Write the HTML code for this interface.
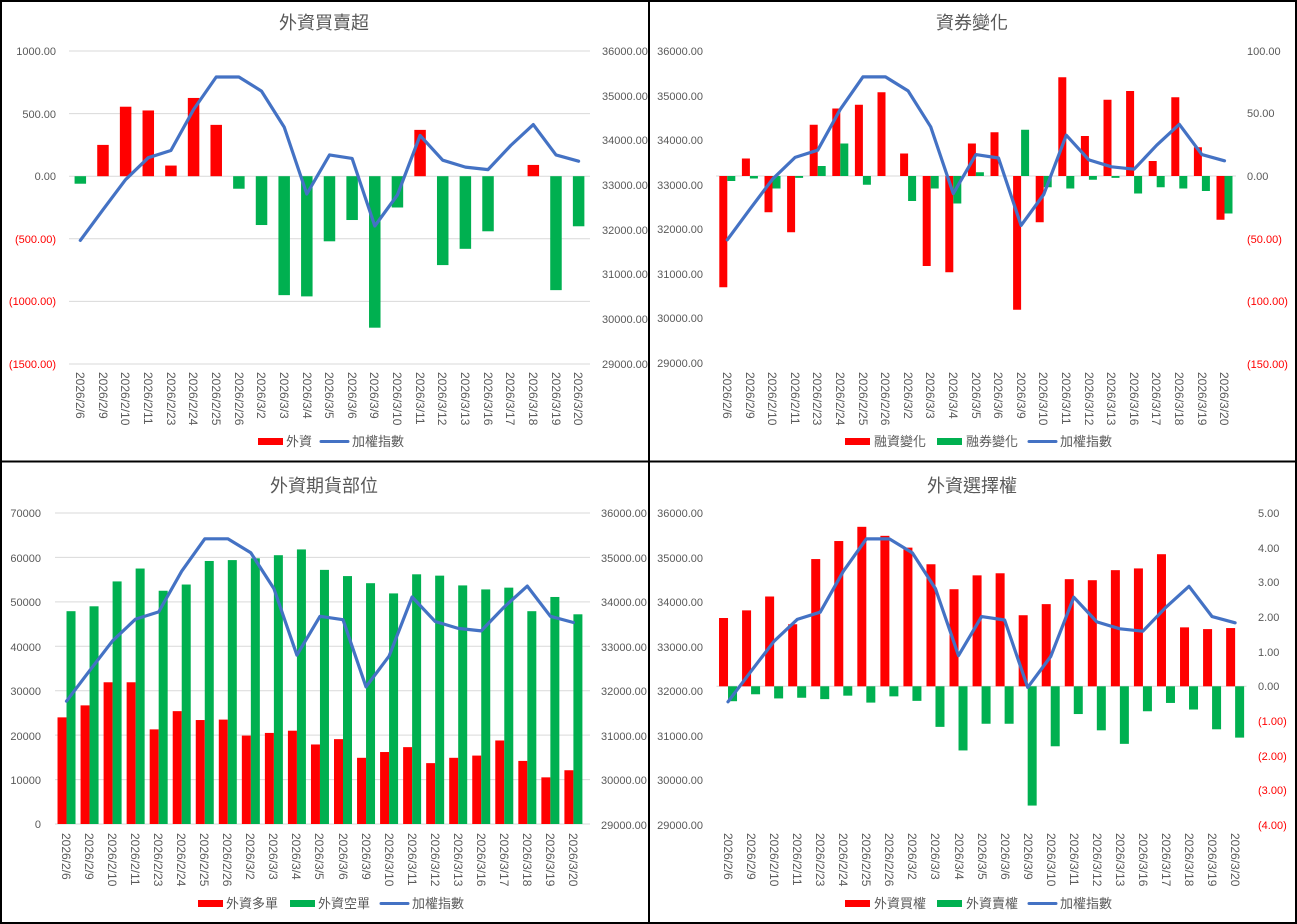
<!DOCTYPE html>
<html><head><meta charset="utf-8">
<style>
html,body{margin:0;padding:0;background:#fff;}
svg{display:block;font-family:"Liberation Sans","Noto Sans CJK TC",sans-serif;}
.ax{font-size:11px;fill:#595959;}
.neg{font-size:11px;fill:#FF0000;}
.dt{font-size:12px;fill:#595959;}
.tt{font-size:18px;fill:#595959;}
.lg{font-size:13px;fill:#595959;}
</style></head>
<body>
<svg id="s" width="1297" height="924" viewBox="0 0 1297 924" xmlns="http://www.w3.org/2000/svg">
<rect x="0" y="0" width="1297" height="924" fill="#fff"/>
<g id="g"></g>
<rect x="1" y="1" width="1295" height="922" fill="none" stroke="#000" stroke-width="2"/>
<line x1="649" y1="0" x2="649" y2="924" stroke="#000" stroke-width="2"/>
<line x1="0" y1="461.5" x2="1297" y2="461.5" stroke="#000" stroke-width="2"/>

<text class="tt" x="324" y="29" text-anchor="middle">外資買賣超</text>
<text class="tt" x="972" y="29" text-anchor="middle">資券變化</text>
<text class="tt" x="324" y="492" text-anchor="middle">外資期貨部位</text>
<text class="tt" x="972" y="492" text-anchor="middle">外資選擇權</text>

<g class="ax" text-anchor="end">
<text x="56" y="55">1000.00</text><text x="56" y="118">500.00</text><text x="56" y="180">0.00</text>
</g>
<g class="neg" text-anchor="end">
<text x="56" y="243">(500.00)</text><text x="56" y="305">(1000.00)</text><text x="56" y="368">(1500.00)</text>
</g>
<g class="ax">
<text x="602" y="55">36000.00</text><text x="602" y="100">35000.00</text><text x="602" y="144">34000.00</text><text x="602" y="189">33000.00</text><text x="602" y="234">32000.00</text><text x="602" y="278">31000.00</text><text x="602" y="323">30000.00</text><text x="602" y="368">29000.00</text>
</g>
<g class="ax" text-anchor="end">
<text x="703" y="55">36000.00</text><text x="703" y="100">35000.00</text><text x="703" y="144">34000.00</text><text x="703" y="189">33000.00</text><text x="703" y="233">32000.00</text><text x="703" y="278">31000.00</text><text x="703" y="322">30000.00</text><text x="703" y="367">29000.00</text>
</g>
<g class="ax"><text x="1247" y="55">100.00</text><text x="1247" y="117">50.00</text><text x="1247" y="180">0.00</text></g>
<g class="neg"><text x="1247" y="243">(50.00)</text><text x="1247" y="305">(100.00)</text><text x="1247" y="368">(150.00)</text></g>
<g class="ax" text-anchor="end">
<text x="41" y="517">70000</text><text x="41" y="562">60000</text><text x="41" y="606">50000</text><text x="41" y="651">40000</text><text x="41" y="695">30000</text><text x="41" y="740">20000</text><text x="41" y="784">10000</text><text x="41" y="828">0</text>
</g>
<g class="ax">
<text x="601" y="517">36000.00</text><text x="601" y="562">35000.00</text><text x="601" y="606">34000.00</text><text x="601" y="651">33000.00</text><text x="601" y="695">32000.00</text><text x="601" y="740">31000.00</text><text x="601" y="784">30000.00</text><text x="601" y="829">29000.00</text>
</g>
<g class="ax" text-anchor="end">
<text x="703" y="517">36000.00</text><text x="703" y="562">35000.00</text><text x="703" y="606">34000.00</text><text x="703" y="651">33000.00</text><text x="703" y="695">32000.00</text><text x="703" y="740">31000.00</text><text x="703" y="784">30000.00</text><text x="703" y="829">29000.00</text>
</g>
<g class="ax"><text x="1258" y="517">5.00</text><text x="1258" y="552">4.00</text><text x="1258" y="586">3.00</text><text x="1258" y="621">2.00</text><text x="1258" y="656">1.00</text><text x="1258" y="690">0.00</text></g>
<g class="neg"><text x="1258" y="725">(1.00)</text><text x="1258" y="760">(2.00)</text><text x="1258" y="794">(3.00)</text><text x="1258" y="829">(4.00)</text></g>

<g class="dt">
<text transform="translate(76,372) rotate(90)">2026/2/6</text>
<text transform="translate(99,372) rotate(90)">2026/2/9</text>
<text transform="translate(121,372) rotate(90)">2026/2/10</text>
<text transform="translate(144,372) rotate(90)">2026/2/11</text>
<text transform="translate(167,372) rotate(90)">2026/2/23</text>
<text transform="translate(189,372) rotate(90)">2026/2/24</text>
<text transform="translate(212,372) rotate(90)">2026/2/25</text>
<text transform="translate(235,372) rotate(90)">2026/2/26</text>
<text transform="translate(257,372) rotate(90)">2026/3/2</text>
<text transform="translate(280,372) rotate(90)">2026/3/3</text>
<text transform="translate(303,372) rotate(90)">2026/3/4</text>
<text transform="translate(325,372) rotate(90)">2026/3/5</text>
<text transform="translate(348,372) rotate(90)">2026/3/6</text>
<text transform="translate(370,372) rotate(90)">2026/3/9</text>
<text transform="translate(393,372) rotate(90)">2026/3/10</text>
<text transform="translate(416,372) rotate(90)">2026/3/11</text>
<text transform="translate(438,372) rotate(90)">2026/3/12</text>
<text transform="translate(461,372) rotate(90)">2026/3/13</text>
<text transform="translate(484,372) rotate(90)">2026/3/16</text>
<text transform="translate(506,372) rotate(90)">2026/3/17</text>
<text transform="translate(529,372) rotate(90)">2026/3/18</text>
<text transform="translate(552,372) rotate(90)">2026/3/19</text>
<text transform="translate(574,372) rotate(90)">2026/3/20</text>
</g>
<g class="dt">
<text transform="translate(723,372) rotate(90)">2026/2/6</text>
<text transform="translate(746,372) rotate(90)">2026/2/9</text>
<text transform="translate(768,372) rotate(90)">2026/2/10</text>
<text transform="translate(791,372) rotate(90)">2026/2/11</text>
<text transform="translate(813,372) rotate(90)">2026/2/23</text>
<text transform="translate(836,372) rotate(90)">2026/2/24</text>
<text transform="translate(859,372) rotate(90)">2026/2/25</text>
<text transform="translate(881,372) rotate(90)">2026/2/26</text>
<text transform="translate(904,372) rotate(90)">2026/3/2</text>
<text transform="translate(926,372) rotate(90)">2026/3/3</text>
<text transform="translate(949,372) rotate(90)">2026/3/4</text>
<text transform="translate(972,372) rotate(90)">2026/3/5</text>
<text transform="translate(994,372) rotate(90)">2026/3/6</text>
<text transform="translate(1017,372) rotate(90)">2026/3/9</text>
<text transform="translate(1039,372) rotate(90)">2026/3/10</text>
<text transform="translate(1062,372) rotate(90)">2026/3/11</text>
<text transform="translate(1085,372) rotate(90)">2026/3/12</text>
<text transform="translate(1107,372) rotate(90)">2026/3/13</text>
<text transform="translate(1130,372) rotate(90)">2026/3/16</text>
<text transform="translate(1152,372) rotate(90)">2026/3/17</text>
<text transform="translate(1175,372) rotate(90)">2026/3/18</text>
<text transform="translate(1198,372) rotate(90)">2026/3/19</text>
<text transform="translate(1220,372) rotate(90)">2026/3/20</text>
</g>
<g class="dt">
<text transform="translate(62,833) rotate(90)">2026/2/6</text>
<text transform="translate(85,833) rotate(90)">2026/2/9</text>
<text transform="translate(108,833) rotate(90)">2026/2/10</text>
<text transform="translate(131,833) rotate(90)">2026/2/11</text>
<text transform="translate(154,833) rotate(90)">2026/2/23</text>
<text transform="translate(177,833) rotate(90)">2026/2/24</text>
<text transform="translate(200,833) rotate(90)">2026/2/25</text>
<text transform="translate(223,833) rotate(90)">2026/2/26</text>
<text transform="translate(246,833) rotate(90)">2026/3/2</text>
<text transform="translate(269,833) rotate(90)">2026/3/3</text>
<text transform="translate(292,833) rotate(90)">2026/3/4</text>
<text transform="translate(315,833) rotate(90)">2026/3/5</text>
<text transform="translate(339,833) rotate(90)">2026/3/6</text>
<text transform="translate(362,833) rotate(90)">2026/3/9</text>
<text transform="translate(385,833) rotate(90)">2026/3/10</text>
<text transform="translate(408,833) rotate(90)">2026/3/11</text>
<text transform="translate(431,833) rotate(90)">2026/3/12</text>
<text transform="translate(454,833) rotate(90)">2026/3/13</text>
<text transform="translate(477,833) rotate(90)">2026/3/16</text>
<text transform="translate(500,833) rotate(90)">2026/3/17</text>
<text transform="translate(523,833) rotate(90)">2026/3/18</text>
<text transform="translate(546,833) rotate(90)">2026/3/19</text>
<text transform="translate(569,833) rotate(90)">2026/3/20</text>
</g>
<g class="dt">
<text transform="translate(724,833) rotate(90)">2026/2/6</text>
<text transform="translate(747,833) rotate(90)">2026/2/9</text>
<text transform="translate(770,833) rotate(90)">2026/2/10</text>
<text transform="translate(793,833) rotate(90)">2026/2/11</text>
<text transform="translate(816,833) rotate(90)">2026/2/23</text>
<text transform="translate(839,833) rotate(90)">2026/2/24</text>
<text transform="translate(862,833) rotate(90)">2026/2/25</text>
<text transform="translate(885,833) rotate(90)">2026/2/26</text>
<text transform="translate(908,833) rotate(90)">2026/3/2</text>
<text transform="translate(931,833) rotate(90)">2026/3/3</text>
<text transform="translate(955,833) rotate(90)">2026/3/4</text>
<text transform="translate(978,833) rotate(90)">2026/3/5</text>
<text transform="translate(1001,833) rotate(90)">2026/3/6</text>
<text transform="translate(1024,833) rotate(90)">2026/3/9</text>
<text transform="translate(1047,833) rotate(90)">2026/3/10</text>
<text transform="translate(1070,833) rotate(90)">2026/3/11</text>
<text transform="translate(1093,833) rotate(90)">2026/3/12</text>
<text transform="translate(1116,833) rotate(90)">2026/3/13</text>
<text transform="translate(1139,833) rotate(90)">2026/3/16</text>
<text transform="translate(1162,833) rotate(90)">2026/3/17</text>
<text transform="translate(1185,833) rotate(90)">2026/3/18</text>
<text transform="translate(1208,833) rotate(90)">2026/3/19</text>
<text transform="translate(1231,833) rotate(90)">2026/3/20</text>
</g>

<rect x="258" y="438" width="25" height="7" fill="#FF0000"/><text class="lg" x="286" y="446">外資</text>
<line x1="321" y1="441.5" x2="348" y2="441.5" stroke="#4472C4" stroke-width="3" stroke-linecap="round"/><text class="lg" x="352" y="446">加權指數</text>

<rect x="845" y="438" width="25" height="7" fill="#FF0000"/><text class="lg" x="874" y="446">融資變化</text>
<rect x="937" y="438" width="25" height="7" fill="#00B050"/><text class="lg" x="966" y="446">融券變化</text>
<line x1="1029" y1="441.5" x2="1056" y2="441.5" stroke="#4472C4" stroke-width="3" stroke-linecap="round"/><text class="lg" x="1060" y="446">加權指數</text>

<rect x="198" y="900" width="25" height="7" fill="#FF0000"/><text class="lg" x="226" y="908">外資多單</text>
<rect x="290" y="900" width="25" height="7" fill="#00B050"/><text class="lg" x="318" y="908">外資空單</text>
<line x1="381" y1="903.5" x2="408" y2="903.5" stroke="#4472C4" stroke-width="3" stroke-linecap="round"/><text class="lg" x="412" y="908">加權指數</text>

<rect x="845" y="900" width="25" height="7" fill="#FF0000"/><text class="lg" x="874" y="908">外資買權</text>
<rect x="937" y="900" width="25" height="7" fill="#00B050"/><text class="lg" x="966" y="908">外資賣權</text>
<line x1="1029" y1="903.5" x2="1056" y2="903.5" stroke="#4472C4" stroke-width="3" stroke-linecap="round"/><text class="lg" x="1060" y="908">加權指數</text>
</svg>
<script>
(function(){
var NS="http://www.w3.org/2000/svg",g=document.getElementById('g');
function el(t,a){var e=document.createElementNS(NS,t);for(var k in a)e.setAttribute(k,a[k]);g.appendChild(e);return e;}
var idx=[31765,32451,33123,33613,33774,34691,35419,35419,35104,34299,32801,33676,33599,32087,32780,34110,33557,33403,33347,33886,34355,33676,33536];
var R='#FF0000',G='#00B050',B='#4472C4';
function bar(cx,w,y0,y1,c){el('rect',{x:cx,y:Math.min(y0,y1),width:w,height:Math.max(0.5,Math.abs(y1-y0)),fill:c});}
function line(x0,cw,top,bot){var p=[];for(var i=0;i<23;i++){var x=x0+cw*(i+0.5);var y=top+(36000-idx[i])/7000*(bot-top);p.push(x.toFixed(1)+','+y.toFixed(1));}
el('polyline',{points:p.join(' '),fill:'none',stroke:B,'stroke-width':3.2,'stroke-linejoin':'round','stroke-linecap':'round'});}
(function(){var x0=69,cw=22.65,top=51,bot=364;
for(var k=0;k<6;k++){var y=top+k*(bot-top)/5;el('line',{x1:x0,x2:590,y1:y,y2:y,stroke:'#D9D9D9','stroke-width':1});}
var v=[-60,250,555,525,85,625,410,-100,-390,-950,-960,-520,-350,-1210,-250,370,-710,-580,-440,0,90,-910,-400];
var z=176.2,s=313/2500;
for(var i=0;i<23;i++){if(!v[i])continue;var cx=x0+cw*(i+0.5);bar(cx-5.75,11.5,z,z-v[i]*s,v[i]>0?R:G);}
line(x0,cw,top,bot);})();
(function(){var x0=716,cw=22.6,top=51,bot=363;
el('line',{x1:x0,x2:1236,y1:176,y2:176,stroke:'#D9D9D9','stroke-width':1});
var r=[-89,14,-29,-45,41,54,57,67,18,-72,-77,26,35,-107,-37,79,32,61,68,12,63,23,-35];
var gg=[-4,-2,-10,-1.5,8,26,-7,0,-20,-10,-22,3,0,37,-9,-10,-3,-1.5,-14,-9,-10,-12,-30];
var z=176,s=1.25;
for(var i=0;i<23;i++){var cx=x0+cw*(i+0.5);bar(cx-8,8,z,z-r[i]*s,R);if(gg[i])bar(cx,8,z,z-gg[i]*s,G);}
line(x0,cw,top,bot);})();
(function(){var x0=55,cw=23.04,top=513,bot=824;
for(var k=0;k<8;k++){var y=top+k*(bot-top)/7;el('line',{x1:x0,x2:590,y1:y,y2:y,stroke:'#D9D9D9','stroke-width':1});}
var r=[24.0,26.7,31.9,31.9,21.3,25.4,23.4,23.5,19.9,20.5,21.0,17.9,19.1,14.9,16.2,17.3,13.7,14.9,15.4,18.8,14.2,10.5,12.1];
var gg=[47.9,49.0,54.6,57.5,52.5,53.9,59.2,59.4,59.8,60.5,61.8,57.2,55.8,54.2,51.9,56.2,55.9,53.7,52.8,53.2,47.9,51.1,47.2];
var s=(bot-top)/70;
for(var i=0;i<23;i++){var cx=x0+cw*(i+0.5);bar(cx-9,9,bot,bot-r[i]*s,R);bar(cx,9,bot,bot-gg[i]*s,G);}
line(x0,cw,top,bot);})();
(function(){var x0=716.5,cw=23.05,top=513,bot=825;
var z=686.3,s=34.67;
el('line',{x1:x0,x2:1246.5,y1:z,y2:z,stroke:'#D9D9D9','stroke-width':1});
var r=[1.97,2.19,2.59,1.79,3.67,4.19,4.6,4.34,4.0,3.52,2.8,3.2,3.26,2.05,2.37,3.09,3.06,3.35,3.4,3.81,1.7,1.65,1.68];
var gg=[-0.43,-0.23,-0.35,-0.33,-0.37,-0.27,-0.47,-0.29,-0.42,-1.17,-1.85,-1.08,-1.08,-3.44,-1.73,-0.8,-1.27,-1.66,-0.72,-0.48,-0.67,-1.24,-1.48];
for(var i=0;i<23;i++){var cx=x0+cw*(i+0.5);bar(cx-9,9,z,z-r[i]*s,R);bar(cx,9,z,z-gg[i]*s,G);}
line(x0,cw,top,bot);})();
})();
</script>
</body></html>
